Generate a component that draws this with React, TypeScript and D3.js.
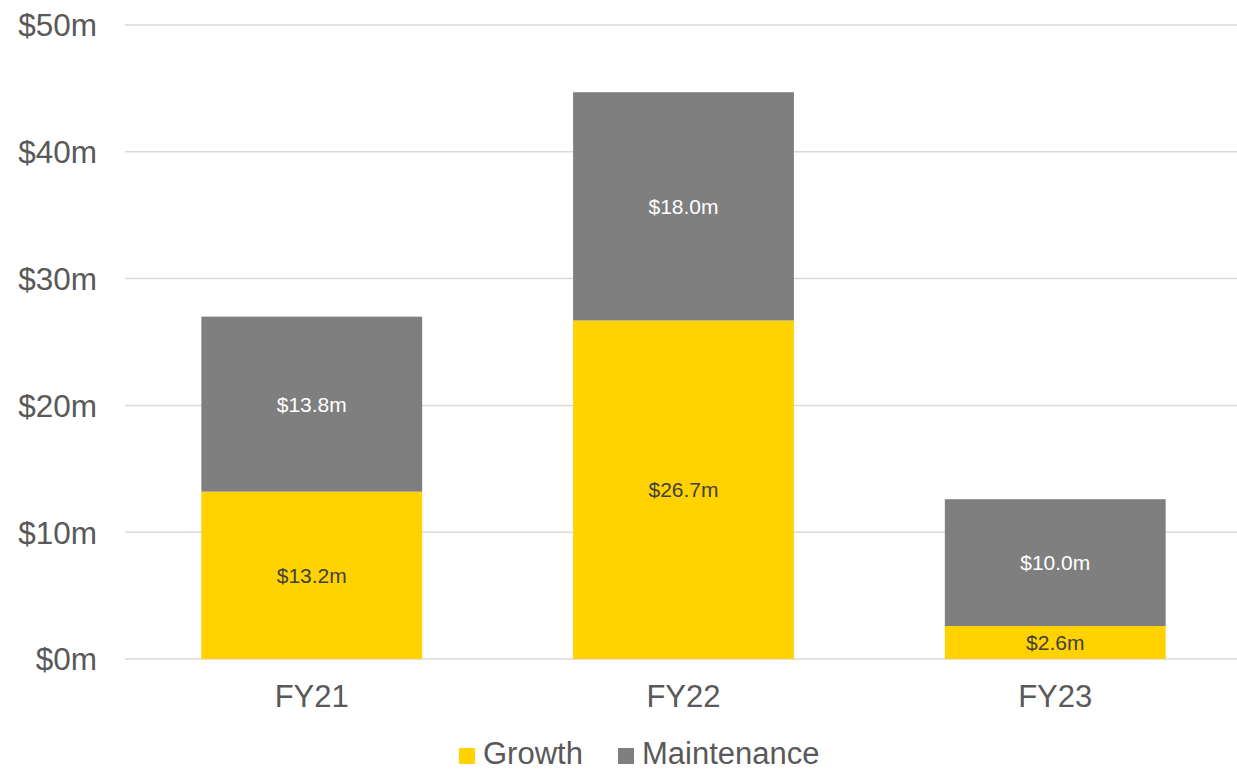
import React from "react";
import * as d3 from "d3";

const categories = ["FY21", "FY22", "FY23"];
const growth = [13.2, 26.7, 2.6];
const maintenance = [13.8, 18.0, 10.0];
const yTicks = [0, 10, 20, 30, 40, 50];
const seriesNames = ["Growth", "Maintenance"];
const seriesColors = ["#FFD200", "#7F7F7F"];
const labelColors = ["#404040", "#FFFFFF"];

const W = 1237;
const H = 770;
const FONT = "'Liberation Sans', Arial, sans-serif";

export default function App() {
  const x = d3.scaleBand<string>().domain(categories).range([127, 1240]).paddingInner(0.406).paddingOuter(0.2);
  const y = d3.scaleLinear().domain([0, 50]).range([659, 25]);

  const data = categories.map((c, i) => ({ cat: c, growth: growth[i], maintenance: maintenance[i] }));
  const stack = d3.stack<any>().keys(["growth", "maintenance"]);
  const series = stack(data);

  const fmt = (v: number) => `$${v.toFixed(1)}m`;

  return (
    <svg width={W} height={H} style={{ position: "absolute", left: 0, top: 0, background: "#fff" }} fontFamily={FONT}>
      {yTicks.map((t) => (
        <g key={t}>
          <line x1={125} x2={1237} y1={y(t)} y2={y(t)} stroke="#D9D9D9" strokeWidth={1.5} />
          <text x={97} y={y(t)} dy="0.36em" textAnchor="end" fontSize={31.5} fill="#595959">
            {`$${t}m`}
          </text>
        </g>
      ))}
      {series.map((s, si) => (
        <g key={si}>
          {s.map((d: any, i: number) => {
            const x0 = x(categories[i])!;
            const y0 = y(d[1]);
            const y1 = y(d[0]);
            return (
              <g key={i}>
                <rect x={x0} y={y0} width={x.bandwidth()} height={y1 - y0} fill={seriesColors[si]} />
                <text
                  x={x0 + x.bandwidth() / 2}
                  y={(y0 + y1) / 2}
                  dy="0.36em"
                  textAnchor="middle"
                  fontSize={21}
                  fill={labelColors[si]}
                >
                  {fmt(d[1] - d[0])}
                </text>
              </g>
            );
          })}
        </g>
      ))}
      {categories.map((c) => (
        <text key={c} x={x(c)! + x.bandwidth() / 2} y={707} textAnchor="middle" fontSize={31} fill="#595959">
          {c}
        </text>
      ))}
      <g>
        <rect x={459} y={748} width={16} height={16} fill={seriesColors[0]} />
        <text x={483} y={764} fontSize={31} fill="#595959">{seriesNames[0]}</text>
        <rect x={618} y={748} width={16} height={16} fill={seriesColors[1]} />
        <text x={642} y={764} fontSize={31} fill="#595959">{seriesNames[1]}</text>
      </g>
    </svg>
  );
}
